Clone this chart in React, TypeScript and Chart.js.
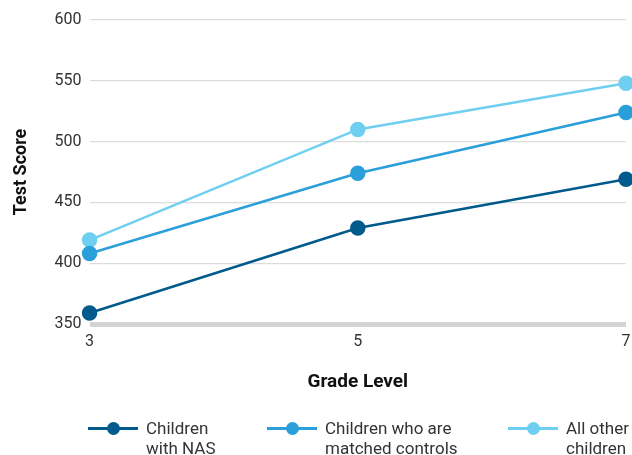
import React, { useEffect, useRef } from "react";
import { Chart, registerables } from "chart.js";

Chart.register(...registerables);

const grades = ["3", "5", "7"];
const nasScores = [359, 429, 469];
const matchedScores = [408, 474, 524];
const otherScores = [419, 510, 548];
const seriesNames = [["Children", "with NAS"], ["Children who are", "matched controls"], ["All other", "children"]];
const seriesColors = ["#005a8c", "#2a9fd9", "#6fcff0"];
const yTicks = [350, 400, 450, 500, 550, 600];

const FONT = "Roboto, 'DejaVu Sans', sans-serif";

export default function App() {
  const ref = useRef<HTMLCanvasElement | null>(null);
  useEffect(() => {
    document.body.style.margin = "0";
    const values = [nasScores, matchedScores, otherScores];
    const chart = new Chart(ref.current!, {
      type: "line",
      data: {
        labels: grades,
        datasets: values.map((v, i) => ({
          label: seriesNames[i].join(" "),
          data: v,
          borderColor: seriesColors[i],
          backgroundColor: seriesColors[i],
          pointBackgroundColor: seriesColors[i],
          pointBorderColor: seriesColors[i],
          pointRadius: 6.5,
          borderWidth: 2.5,
          tension: 0,
          clip: false as any,
        })),
      },
      options: {
        animation: false,
        responsive: false,
        layout: { autoPadding: false, padding: { top: 20, right: 6, bottom: 61, left: 11 } },
        plugins: { legend: { display: false }, tooltip: { enabled: false } },
        scales: {
          x: {
            type: "category",
            offset: false,
            grid: { display: false },
            border: { display: false },
            ticks: { color: "#333", font: { family: FONT, size: 16 }, padding: 0, maxRotation: 0 },
            title: {
              display: true,
              text: "Grade Level",
              color: "#111",
              font: { family: FONT, size: 19, weight: "bold" },
              padding: { top: 20, bottom: 0 },
            },
          },
          y: {
            min: 350,
            max: 600,
            afterBuildTicks: (axis: any) => {
              axis.ticks = yTicks.map((v) => ({ value: v }));
            },
            grid: {
              color: (c: any) => (c.tick && c.tick.value === 350 ? "#d4d4d4" : "#dcdcdc"),
              lineWidth: (c: any) => (c.tick && c.tick.value === 350 ? 5 : 1.2),
              drawTicks: false,
            },
            border: { display: false },
            ticks: { color: "#333", font: { family: FONT, size: 16 }, padding: 8 },
            title: {
              display: true,
              text: "Test Score",
              color: "#111",
              font: { family: FONT, size: 18, weight: "bold" },
              padding: { top: 0, bottom: 14 },
            },
          },
        },
      },
    });
    return () => chart.destroy();
  }, []);

  const legendX = [88, 267, 508];
  return (
    <div style={{ position: "relative", width: 632, height: 455, overflow: "hidden" }}>
      <canvas ref={ref} width={632} height={455} style={{ display: "block" }} />
      {seriesNames.map((name, i) => (
        <div key={i} style={{ position: "absolute", left: legendX[i], top: 418, display: "flex", alignItems: "flex-start" }}>
          <div style={{ position: "relative", width: 50, height: 20, marginRight: 8 }}>
            <div style={{ position: "absolute", left: 0, top: 9, width: 50, height: 2.5, background: seriesColors[i] }} />
            <div style={{ position: "absolute", left: 19, top: 4, width: 13, height: 13, borderRadius: 7, background: seriesColors[i] }} />
          </div>
          <div style={{ fontFamily: FONT, fontSize: 17, lineHeight: "20px", color: "#333", whiteSpace: "nowrap" }}>
            {name[0]}
            <br />
            {name[1]}
          </div>
        </div>
      ))}
    </div>
  );
}
